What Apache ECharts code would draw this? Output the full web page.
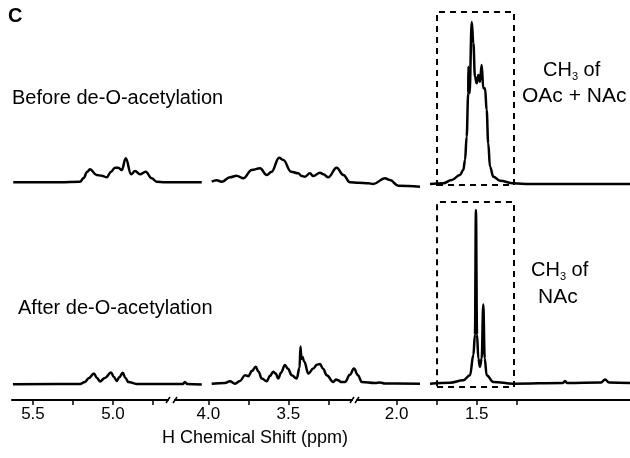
<!DOCTYPE html>
<html><head><meta charset="utf-8">
<script src="https://cdn.jsdelivr.net/npm/echarts@6/dist/echarts.min.js"></script>
<style>html,body{margin:0;padding:0;background:#fff}#c{width:630px;height:458px}</style>
</head><body><div id="c"></div>
<script>
// ---- Spectra (ppm, relative intensity) ----
const beforeHigh = [[5.592,1.7],[5.30,1.8],[5.175,2.2],[5.154,5.7],[5.129,12.3],[5.113,14.7],[5.071,9],[5.039,8.3],[5.008,6.7],[4.981,12.3],[4.956,16.3],[4.936,16.3],[4.914,14],[4.889,25.7],[4.856,9.7],[4.831,13],[4.80,9.7],[4.764,12.3],[4.727,5.7],[4.696,2.3],[4.644,1.8],[4.414,1.7]];
const beforeMid = [[4.302,2.3],[4.271,3.7],[4.239,2.3],[4.188,6.7],[4.146,8.3],[4.104,5.7],[4.052,14],[4.0,15.7],[3.958,9],[3.927,12.3],[3.881,26.3],[3.854,24],[3.806,12.3],[3.761,10.7],[3.739,8],[3.719,7.3],[3.688,10.7],[3.667,8],[3.625,11.3],[3.604,9.7],[3.573,6.7],[3.521,16.3],[3.479,9],[3.438,1.7],[3.386,1.3],[3.323,0.7],[3.292,0],[3.219,5.7],[3.188,4],[3.136,-1.7],[3.0,-2.7]];
const beforeLow = [[2.32,0],[2.237,0.7],[2.184,4],[2.133,9],[2.112,14],[2.101,24],[2.091,47.3],[2.081,90.7],[2.080,117.3],[2.073,90.7],[2.059,162],[2.049,140.7],[2.039,107.3],[2.028,100.7],[2.018,109],[2.008,102.3],[1.997,119],[1.987,95.7],[1.976,95.7],[1.966,74],[1.956,40.7],[1.945,17.3],[1.924,7.3],[1.883,3.3],[1.799,0.7],[1.695,0],[1.07,0]];
const afterHigh = [[5.594,-0.3],[5.175,0],[5.144,2],[5.119,6],[5.088,10.3],[5.069,6],[5.05,2.5],[5.019,6],[4.981,11.3],[4.963,7],[4.946,3],[4.928,7],[4.908,11],[4.891,6],[4.873,2],[4.821,0],[4.531,0],[4.519,2],[4.506,0],[4.414,-0.5]];
const afterMid = [[4.302,0.3],[4.219,1],[4.188,2.7],[4.156,0.3],[4.125,3],[4.094,8.7],[4.073,7.7],[4.05,13],[4.027,17],[4.009,12],[3.989,5.3],[3.958,2.7],[3.938,8],[3.917,12],[3.902,10.3],[3.886,5.3],[3.869,11],[3.844,18.7],[3.825,15],[3.802,8.7],[3.771,5.3],[3.753,16],[3.747,37],[3.741,25],[3.736,27],[3.723,22],[3.698,10.3],[3.667,15.3],[3.644,19],[3.625,19.7],[3.606,15],[3.583,8.7],[3.542,2],[3.525,4.5],[3.511,3.7],[3.494,2],[3.469,2],[3.438,9],[3.413,15.3],[3.388,8.7],[3.364,2],[3.281,1],[3.25,1.5],[3.219,0.5],[3.0,0.3]];
const afterLow = [[2.32,0.3],[2.195,1.3],[2.112,3.7],[2.07,8.7],[2.049,28.7],[2.039,48.7],[2.033,172],[2.026,48.7],[2.018,25.3],[2.008,17],[1.997,25.3],[1.987,78.7],[1.978,25.3],[1.966,8.7],[1.924,2],[1.799,0.3],[1.489,1],[1.476,3],[1.464,1],[1.251,1.5],[1.226,4.3],[1.201,1.5],[1.07,1]];

// ppm windows of the three spectral panels
const panelPpm = [[5.60,4.4125],[4.30,3.0],[2.32,1.07]];
// dashed boxes (ppm range, intensity range) around CH3 region
const boxPpm = [2.276,1.795];
const boxBeforeInt = [-1,172];
const boxAfterInt = [-3,180];

// bottom (broken) axis
const axisSegPpm = [[5.631,4.656],[4.208,3.102],[2.248,0.542]];
const axisTicks = [[5.5,5.25,5.0,4.75],[4.0,3.75,3.5,3.25],[2.0,1.75,1.5,1.25]];
const axisLabels = [[5.5,5.0],[4.0,3.5],[2.0,1.5]];

const FONT = 'Liberation Sans, Arial, sans-serif';
const chart = echarts.init(document.getElementById('c'), null, {renderer:'canvas'});

const panelLeft = [12,212,430], panelWidth = [190,208,200];
const axisLeft = [12,175,357], axisWidth = [156,177,273];

const grids = [], xAxes = [], yAxes = [], series = [];
const traces = [[beforeHigh,beforeMid,beforeLow],[afterHigh,afterMid,afterLow]];
const rowTop = [0,200];
for (let r=0;r<2;r++){
  for (let p=0;p<3;p++){
    const gi = grids.length;
    grids.push({left:panelLeft[p], width:panelWidth[p], top:rowTop[r], height:188});
    xAxes.push({type:'value', gridIndex:gi, inverse:true, min:panelPpm[p][1], max:panelPpm[p][0], show:false});
    yAxes.push({type:'value', gridIndex:gi, min:-4, max:r===0?184:182, show:false});
    const s = {type:'line', xAxisIndex:gi, yAxisIndex:gi, data:traces[r][p], showSymbol:false,
      smooth:0.4, smoothMonotone:'x', lineStyle:{color:'#000', width:2.5, join:'round'}, silent:true, animation:false};
    if (p===2){
      const bi = r===0?boxBeforeInt:boxAfterInt;
      s.markArea = {silent:true, itemStyle:{color:'rgba(0,0,0,0)', borderColor:'#000', borderWidth:2, borderType:[6,5]},
        data:[[{xAxis:boxPpm[0], yAxis:bi[0]},{xAxis:boxPpm[1], yAxis:bi[1]}]]};
    }
    series.push(s);
  }
}
for (let a=0;a<3;a++){
  const gi = grids.length;
  grids.push({left:axisLeft[a], width:axisWidth[a], top:399, height:1});
  xAxes.push({type:'value', gridIndex:gi, inverse:true, min:axisSegPpm[a][1], max:axisSegPpm[a][0],
    axisLine:{show:true, lineStyle:{color:'#000', width:2}},
    axisTick:{show:true, length:5, lineStyle:{color:'#000', width:1.5}, customValues:axisTicks[a]},
    axisLabel:{show:true, customValues:axisLabels[a], margin:6, fontSize:17, color:'#000', fontFamily:FONT,
      formatter:v=>v.toFixed(1)},
    splitLine:{show:false}});
  yAxes.push({type:'value', gridIndex:gi, min:0, max:1, show:false});
}

const sub = {n:{fontSize:20, fontFamily:FONT, color:'#000', lineHeight:24}, s:{fontSize:11, fontFamily:FONT, color:'#000', verticalAlign:'bottom'}};
function txt(x,y,text,size,opts){
  return Object.assign({type:'text', x:x, y:y, silent:true,
    style:{text:text, fontSize:size, fontFamily:FONT, fill:'#000', textAlign:'left', textVerticalAlign:'middle'}}, opts||{});
}
// small break marks at the axis segment ends
const breaks = [168,175,352,357].map(x=>({type:'line', silent:true, shape:{x1:x-2, y1:403, x2:x+2, y2:397}, style:{stroke:'#000', lineWidth:1.5}}));
const graphics = [
  {type:'text', x:8, y:16, silent:true, style:{text:'C', fontSize:20, fontWeight:'bold', fontFamily:FONT, fill:'#000', textVerticalAlign:'middle'}},
  txt(12,98,'Before de-O-acetylation',20),
  txt(18,308,'After de-O-acetylation',20),
  {type:'text', x:543, y:70, silent:true, style:{text:'{n|CH}{s|3}{n| of}', rich:sub, textVerticalAlign:'middle'}},
  txt(522,96,'OAc + NAc',21),
  {type:'text', x:531, y:270, silent:true, style:{text:'{n|CH}{s|3}{n| of}', rich:sub, textVerticalAlign:'middle'}},
  txt(538,297,'NAc',21),
  {type:'text', x:255, y:438, silent:true, style:{text:'H Chemical Shift (ppm)', fontSize:18, fontFamily:FONT, fill:'#000', textAlign:'center', textVerticalAlign:'middle'}}
].concat(breaks);

chart.setOption({
  animation:false,
  backgroundColor:'#fff',
  grid:grids, xAxis:xAxes, yAxis:yAxes, series:series,
  graphic:graphics
});
</script></body></html>
